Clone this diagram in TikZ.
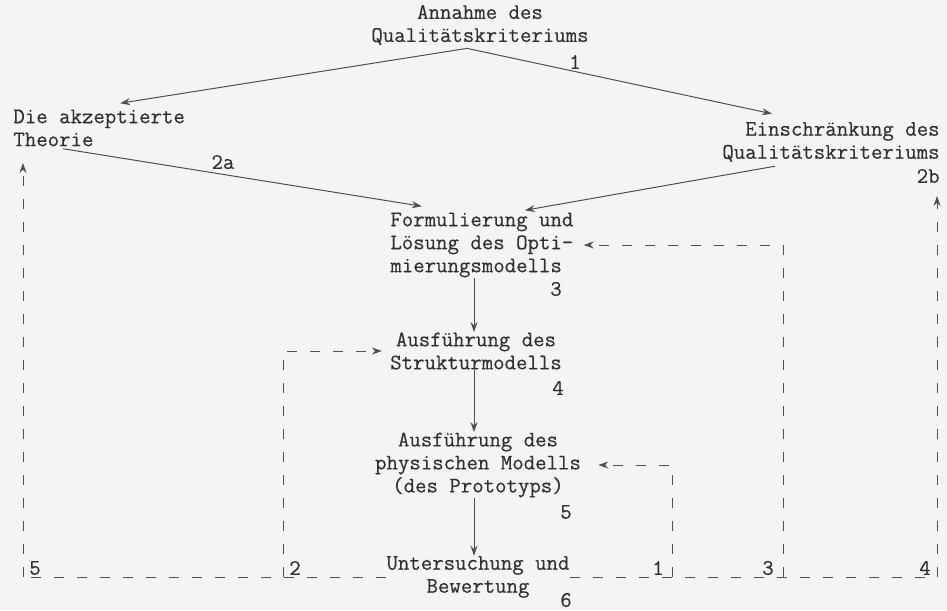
\documentclass[tikz,border=0pt]{standalone}
\usepackage{fontspec}
\newfontfamily\twr{Latin Modern Mono}[FakeBold=0.3]
\usetikzlibrary{arrows.meta,calc}
\definecolor{ink}{HTML}{303030}
\definecolor{linec}{HTML}{505050}
\definecolor{paper}{HTML}{F4F4F2}
\begin{document}
\begin{tikzpicture}[x=0.5pt,y=-0.5pt,
  txt/.style={font=\twr\fontsize{11.1pt}{11.5pt}\selectfont, text=ink, inner sep=0pt},
  lab/.style={txt},
  ar/.style={draw=linec, line width=0.5pt, -{Stealth[length=5pt,width=3.5pt]}},
  fb/.style={ar, dash pattern=on 5pt off 6.5pt},
  fbl/.style={draw=linec, line width=0.5pt, dash pattern=on 5pt off 6.5pt}]
\fill[paper] (0,0) rectangle (947,610);
\useasboundingbox (0,0) rectangle (947,610);
% nodes
\node[txt,align=center] (A) at (480,25) {Annahme des\\Qualitätskriteriums};
\node[txt,align=left,anchor=west] (T) at (13,128) {Die akzeptierte\\Theorie};
\node[txt,align=right,anchor=east] (E) at (940,142) {Einschränkung des\\Qualitätskriteriums};
\node[txt,align=left,anchor=west] (F) at (390,245) {Formulierung und\\Lösung des Opti-\\mierungsmodells};
\node[txt,align=center] (S) at (476,351) {Ausführung des\\Strukturmodells};
\node[txt,align=center] (P) at (478,465) {Ausführung des\\physischen Modells\\(des Prototyps)};
\node[txt,align=center] (U) at (478,577) {Untersuchung und\\Bewertung};
% labels
\node[lab] (l1) at (575,62) {1};
\node[lab] (l2a) at (223,162) {2a};
\node[lab,anchor=east] (l2b) at (940,176) {2b};
\node[lab] (l3) at (556,289) {3};
\node[lab] (l4) at (558,388) {4};
\node[lab] (l5) at (566,512) {5};
\node[lab] (l6) at (566,600) {6};
\node[lab] (b5) at (35,568) {5};
\node[lab] (b2) at (295,568) {2};
\node[lab] (b1) at (658,568) {1};
\node[lab] (b3) at (768,568) {3};
\node[lab] (b4) at (925,568) {4};
% solid arrows
\draw[ar] ($(A.south)+(-13,3)$) -- ($(T.north)+(21,-6)$);
\draw[ar] ($(A.south)+(-13,3)$) -- ($(E.north)+(-59,-8)$);
\draw[ar] ($(T.south)+(-36,2)$) -- ($(F.north)+(-60,-6)$);
\draw[ar] ($(E.south)+(-56,4)$) -- ($(F.north)+(43,-2)$);
\coordinate (ax) at (474,0);
\draw[ar] (F.south -| ax) -- (S.north -| ax);
\draw[ar] (S.south -| ax) -- (P.north -| ax);
\draw[ar] (P.south -| ax) -- (U.north -| ax);
% feedback
\coordinate (k5) at (23,0);
\coordinate (k2) at (283,0);
\coordinate (k1) at (672,0);
\coordinate (k3) at (783,0);
\coordinate (k4) at (937,0);
\coordinate (t5) at (23,163);
\coordinate (t4) at (937,196);
\draw[fbl] (U.west) -- (U.west -| k5);
\draw[fb] (U.west -| k5) -- (t5);
\draw[fb,shorten >=4pt] (U.west -| k2) |- (S.west);
\draw[fbl] (U.east) -- (U.east -| k4);
\draw[fb,shorten >=8.5pt] (U.east -| k1) |- (P.east);
\draw[fb,shorten >=5pt] (U.east -| k3) |- (F.east);
\draw[fb] (U.east -| k4) -- (t4);
\end{tikzpicture}
\end{document}
